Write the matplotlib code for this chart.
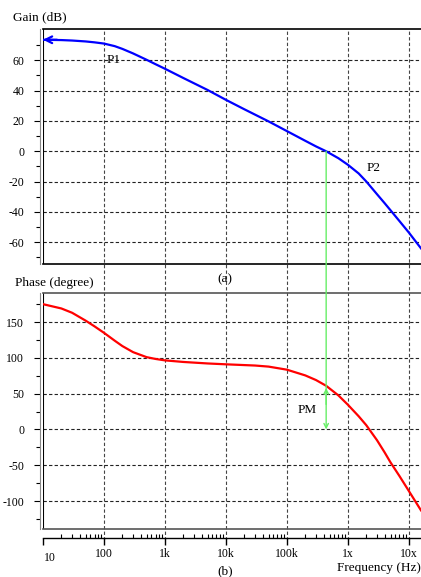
import matplotlib
matplotlib.use("Agg")
import matplotlib.pyplot as plt
from matplotlib.patches import ConnectionPatch

plt.rcParams["axes.unicode_minus"] = False

# data
freq_gain = [10, 20, 30, 50, 70, 100, 150, 200, 300, 500, 700, 1e3, 2e3, 5e3, 1e4,
             2e4, 5e4, 1e5, 2e5, 3e5, 4.4e5, 7e5, 1e6, 1.5e6, 2e6, 3e6, 4e6, 5e6, 7e6, 1e7, 1.58e7]
gain_db = [73.5, 73.3, 73.0, 72.4, 71.8, 71.0, 69.3, 67.5, 64.5, 60.3, 57.4, 54.4, 48.3, 40.4, 33.9,
           27.7, 19.7, 13.3, 6.9, 3.2, 0.0, -4.6, -8.9, -14.6, -19.9, -28.3, -34.2, -38.9, -46.0, -53.6, -64.0]

freq_phase = [10, 20, 30, 50, 70, 100, 150, 200, 300, 500, 700, 1e3, 2e3, 5e3, 1e4,
              3e4, 5e4, 1e5, 2e5, 3e5, 4.4e5, 7e5, 1e6, 1.5e6, 2e6, 3e6, 4e6, 5e6, 7e6, 1e7, 1.58e7]
phase_deg = [175, 169, 163, 152, 144, 135, 124, 116.5, 108, 101, 98.5, 96.5, 94.3, 92.2, 91,
             89.3, 87.8, 83.5, 75.5, 69, 61, 47.5, 34.5, 18.5, 6, -15, -32, -46, -65, -86, -113]

decades = [10, 100, 1e3, 1e4, 1e5, 1e6, 1e7]
decade_labels = ["10", "100", "1k", "10k", "100k", "1x", "10x"]
gain_ticks = [-60, -40, -20, 0, 20, 40, 60]
phase_ticks = [-100, -50, 0, 50, 100, 150]
f_cross = 4.4e5
pm_deg = 61

W, H = 421, 577
XLIM = (10, 1.58e7)
dash = (0, (3, 2))
serif = "Liberation Serif"


def box(x0, y0, x1, y1):
    return [x0 / W, 1 - y1 / H, (x1 - x0) / W, (y1 - y0) / H]


def ftext(x, y, s, size=9.5):
    fig.text(x / W, 1 - y / H, s, family=serif, fontsize=size, va="center")


fig = plt.figure(figsize=(W / 100, H / 100), dpi=100)

# vertical grid that runs through both panels
bg = fig.add_axes(box(43, 29, 421, 540))
bg.set_xscale("log")
bg.set_xlim(XLIM)
for d in decades[1:]:
    bg.axvline(d, color="#444", lw=0.8, ls=dash)
bg.axis("off")


def setup(ax, ylim, ticks, minor):
    ax.set_xscale("log")
    ax.set_xlim(XLIM)
    ax.set_ylim(ylim)
    ax.patch.set_alpha(0)
    ax.set_xticks([])
    ax.set_xticks([], minor=True)
    ax.set_yticks(ticks)
    ax.set_yticks(minor, minor=True)
    for t in ticks:
        ax.axhline(t, color="#222", lw=0.8, ls=dash)
    ax.spines["right"].set_visible(False)
    ax.spines["left"].set_position(("outward", 2.5))
    ax.spines["left"].set_color("#888")
    ax.axvline(XLIM[0], color="black", lw=1.5)
    ax.tick_params(axis="y", direction="out", length=4, width=0.8, pad=7,
                   labelsize=8.5, colors="black")
    ax.tick_params(axis="y", which="minor", length=3, width=0.8)
    for lab in ax.get_yticklabels():
        lab.set_family(serif)
    ax.spines["top"].set_linewidth(1.2)
    ax.spines["bottom"].set_linewidth(1.2)


ax1 = fig.add_axes(box(43, 29, 421, 264))
setup(ax1, (-74.3, 80.6), gain_ticks, [-70, -50, -30, -10, 10, 30, 50, 70])
ax1.plot(freq_gain, gain_db, color="#0000ff", lw=1.6)
ax1.annotate("", xy=(10, gain_db[0]), xytext=(17, gain_db[0]),
             arrowprops=dict(arrowstyle="->", color="#0000ff", lw=1.6, shrinkA=0, shrinkB=0,
                             mutation_scale=12))

ax2 = fig.add_axes(box(43, 293, 421, 529))
setup(ax2, (-139, 190.6), phase_ticks, [-125, -75, -25, 25, 75, 125, 175])
ax2.spines["top"].set_color("#555")
ax2.spines["bottom"].set_color("#555")
ax2.plot(freq_phase, phase_deg, color="#ff0000", lw=1.6)

green = "#66ee66"
con = ConnectionPatch(xyA=(f_cross, 0), coordsA=ax1.transData,
                      xyB=(f_cross, 0), coordsB=ax2.transData,
                      arrowstyle="->", color=green, lw=1.0, mutation_scale=8)
fig.add_artist(con)
ax2.annotate("", xy=(f_cross, pm_deg - 3), xytext=(f_cross, 35),
             arrowprops=dict(arrowstyle="->", color=green, lw=1.0, mutation_scale=8,
                             shrinkA=0, shrinkB=0))

# frequency axis
ax3 = fig.add_axes(box(43, 537, 421, 538))
ax3.set_xscale("log")
ax3.set_xlim(XLIM)
ax3.patch.set_alpha(0)
ax3.set_yticks([])
for s in ["left", "right", "top"]:
    ax3.spines[s].set_visible(False)
ax3.spines["bottom"].set_linewidth(1.0)
ax3.set_xticks(decades)
ax3.set_xticklabels([""] + decade_labels[1:], family=serif, fontsize=8.5)
ax3.tick_params(axis="x", which="major", direction="out", length=5, width=1.0, pad=2)
ax3.tick_params(axis="x", which="minor", direction="in", length=3, width=0.8)
ax3.xaxis.set_minor_formatter(plt.NullFormatter())

ftext(13, 17, "Gain (dB)")
ftext(107, 60, "P1")
ftext(367, 168, "P2")
ftext(217, 279, "(a)")
ftext(15, 283, "Phase (degree)")
ftext(298, 410, "PM")
ftext(44, 558, "10", size=8.5)
ftext(217, 571, "(b)")
ftext(337, 568, "Frequency (Hz)")

fig.savefig("out.png", dpi=100)
